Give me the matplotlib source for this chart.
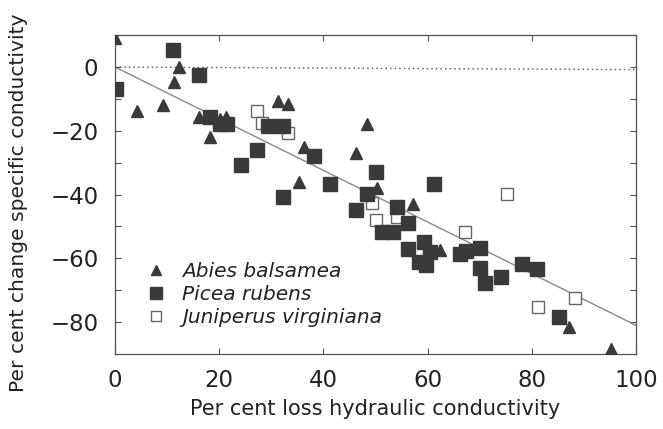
import matplotlib
matplotlib.use("Agg")
import matplotlib.pyplot as plt

# ---- data ----
abies_x = [0, 4.2, 9.3, 11.3, 12.3, 16.2, 18.2, 20.2, 21.3, 31.2, 33.3, 36.2, 35.3,
           46.3, 48.4, 50.3, 57.2, 62.4, 87.2, 95.3]
abies_y = [9, -13.8, -11.8, -4.7, 0, -15.8, -22, -16.2, -15.6, -10.8, -11.7, -25.1, -36,
           -27.1, -18, -37.8, -42.9, -57.3, -81.5, -88.3]

picea_x = [0.1, 11.2, 16.2, 18.2, 20.2, 21.5, 24.1, 27.3, 29.3, 32.3, 32.3, 38.3, 41.3,
           46.2, 48.3, 50.2, 51.2, 53.4, 54.2, 56.3, 56.3, 59.3, 60.4, 58.3, 59.8, 61.3,
           66.2, 67.4, 70.1, 70.1, 71.1, 74.2, 78.1, 81.1, 85.3]
picea_y = [-7, 5.2, -2.6, -15.7, -17.9, -17.9, -30.8, -25.9, -18.6, -18.6, -40.8, -28, -36.8,
           -44.9, -39.7, -33, -51.7, -51.7, -43.9, -48.8, -57, -55, -58, -61.3, -62, -36.8,
           -58.5, -57.8, -56.9, -63.1, -67.9, -66, -61.9, -63.2, -78.4]

juni_x = [27.2, 28.2, 33.3, 49.3, 50.1, 54.2, 67.2, 75.3, 81.2, 88.3]
juni_y = [-13.8, -17.5, -20.8, -42.8, -48, -47, -51.8, -39.7, -75.2, -72.4]

fit_x = [0, 100]
fit_y = [0, -81]
zero_x = [0, 100]
zero_y = [0, -0.8]

labels = ["Abies balsamea", "Picea rubens", "Juniperus virginiana"]
x_ticks = [0, 20, 40, 60, 80, 100]
x_ticklabels = ["0", "20", "40", "60", "80", "100"]
y_ticks = [0, -20, -40, -60, -80]
y_ticklabels = ["0", "\u221220", "\u221240", "\u221260", "\u221280"]
x_label = "Per cent loss hydraulic conductivity"
y_label = "Per cent change specific conductivity"

# ---- figure ----
fig = plt.figure(figsize=(6.63, 4.29), dpi=100)
ax = fig.add_axes([0.1735, 0.175, 0.7855, 0.743])

dark = "#3a3a3a"
ax.plot(zero_x, zero_y, linestyle=(0, (1, 2.0)), color="#666666", linewidth=1.1, zorder=1)
ax.plot(fit_x, fit_y, color="#8a8a8a", linewidth=1.0, zorder=1)

ax.plot(juni_x, juni_y, linestyle="none", marker="s", markersize=9,
        markerfacecolor="white", markeredgecolor="#666666", markeredgewidth=1.0,
        label=labels[2], zorder=2)
ax.plot(picea_x, picea_y, linestyle="none", marker="s", markersize=9.5,
        markerfacecolor=dark, markeredgecolor=dark, label=labels[1], zorder=3)
ax.plot(abies_x, abies_y, linestyle="none", marker="^", markersize=9,
        markerfacecolor=dark, markeredgecolor=dark, label=labels[0], zorder=4)

ax.set_xlim(0, 100)
ax.set_ylim(-90, 10)

ax.set_xticks(x_ticks)
ax.set_xticklabels(x_ticklabels)
ax.set_yticks(y_ticks)
ax.set_yticklabels(y_ticklabels)
ax.set_yticks(list(range(-90, 11, 10)), minor=True)

ax.tick_params(axis="both", which="both", direction="in", top=True, right=True,
               color="#555555", width=0.8)
ax.tick_params(axis="both", which="major", length=4, labelsize=16.5, labelcolor="#222222")
ax.tick_params(axis="y", which="minor", length=4)
ax.tick_params(axis="y", which="major", pad=12)
ax.tick_params(axis="x", which="major", pad=11)

for s in ax.spines.values():
    s.set_color("#555555")
    s.set_linewidth(0.9)

ax.set_xlabel(x_label, fontsize=15, color="#222222")
ax.set_ylabel(y_label, fontsize=14.6, color="#222222")
ax.xaxis.set_label_coords(0.5, -0.14)
ax.yaxis.set_label_coords(-0.168, 0.475)

handles, labs = ax.get_legend_handles_labels()
order = [2, 1, 0]
leg = ax.legend([handles[i] for i in order], [labs[i] for i in order],
                loc="lower left", bbox_to_anchor=(0.02, 0.028), frameon=False,
                prop={"family": "DejaVu Sans", "style": "italic", "size": 14.5},
                handletextpad=0.7, labelspacing=0.2, markerscale=0.85,
                handlelength=1.2)
for t in leg.get_texts():
    t.set_color("#222222")

fig.savefig("out.png", dpi=100)
